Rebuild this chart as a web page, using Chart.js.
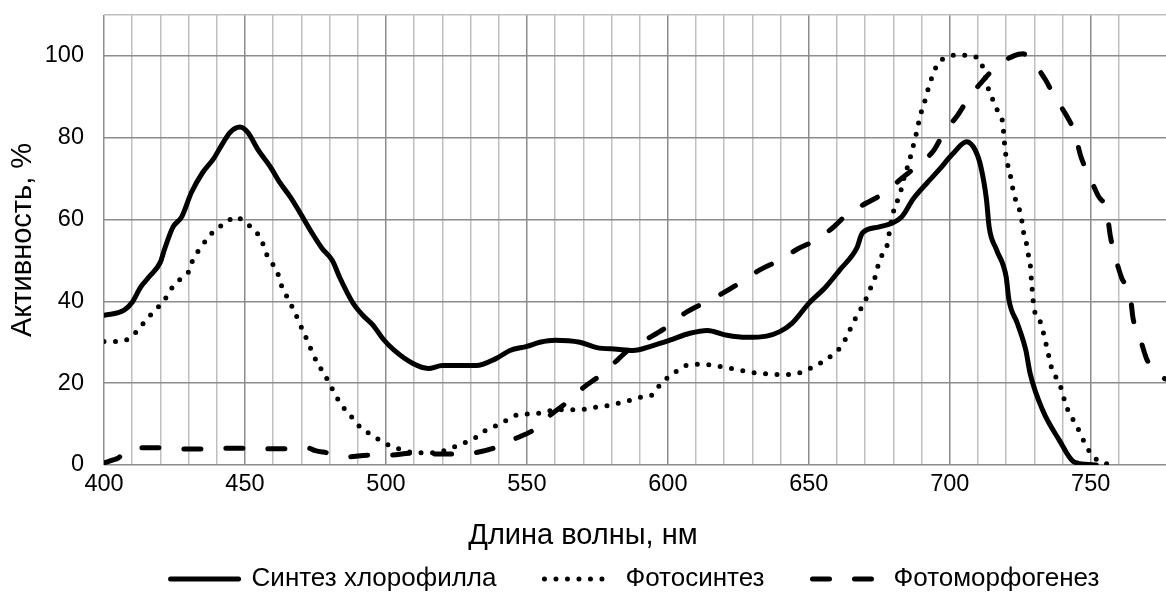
<!DOCTYPE html>
<html lang="ru">
<head>
  <meta charset="UTF-8" />
  <title>Спектры активности</title>
  <script src="https://cdn.jsdelivr.net/npm/chart.js"></script>
  <style>
    html, body { margin: 0; padding: 0; background: #fff; }
    #wrap { width: 1166px; height: 595px; }
  </style>
</head>
<body>
  <div id="wrap"><canvas id="chart-spectra"></canvas></div>
  <script>
    // Синтез хлорофилла
    const chlWl = [400, 407, 410, 413, 416, 420, 421.5, 424.5, 427.6, 431,
      435, 438.7, 442, 444.7, 448.2, 451, 454.6, 458.9, 462.4, 466,
      469.5, 473.7, 477.3, 481, 483.7, 488.3, 491.8, 495.4, 499, 503,
      509.6, 515, 520, 532, 539, 544, 550, 554.6, 560, 568.8,
      574.8, 582, 587.6, 594.7, 600.7, 607.8, 614, 621, 628, 635,
      639.7, 644, 650, 656, 661, 667, 669, 675, 683, 687,
      692, 696, 701, 706, 709, 711, 713, 714, 716.6, 720,
      721, 724, 727, 728.5, 733, 739, 743.6, 748, 752];
    const chlAct = [36.6, 37.8, 39.8, 43.5, 46, 49.6, 52.8, 58.2, 60.7, 66.6,
      71.5, 74.7, 78.5, 81.3, 82.6, 81.3, 77.1, 73, 69, 65.6,
      61.7, 56.8, 53, 50, 45.7, 39.6, 36.6, 34.2, 30.8, 28,
      24.8, 23.6, 24.3, 24.3, 26, 28, 29, 30, 30.5, 30,
      28.7, 28.3, 28, 29.2, 30.5, 32.2, 32.9, 31.7, 31.2, 31.5,
      32.6, 34.6, 39.5, 43.5, 47.7, 53, 56.7, 58.2, 60.7, 65,
      69, 72, 76, 79, 77, 73, 65, 58, 52.6, 46,
      40.3, 34.6, 28, 22.4, 13.3, 5.9, 1, 0.2, 0];

    // Фотосинтез
    const photoWl = [400, 405.7, 410, 412.8, 415.6, 418.8, 421.6, 424, 427, 430,
      431.6, 434, 436.5, 439.4, 443, 446.6, 450, 453.5, 456, 457.4,
      459.6, 461.7, 463, 465, 467, 468.8, 470.6, 472.4, 474, 476,
      478.4, 480.5, 482.6, 485, 488, 490.8, 494.3, 498, 502, 506,
      510, 515, 519, 523.4, 527, 531.6, 535, 539, 543, 546.8,
      551.4, 555.7, 560, 568.8, 573, 577, 582, 586, 590, 594.7,
      597, 600, 604, 608, 612, 616.7, 621, 625, 629.8, 633.7,
      638.6, 643, 647, 651, 655, 658.5, 661.7, 663.8, 665.6, 667.7,
      669.9, 671.6, 673.4, 674.5, 676, 678, 678.7, 680.5, 682.3, 683.3,
      685.8, 687, 688, 689, 690, 691.5, 692.6, 694, 695.7, 699.3,
      703.5, 707.8, 711.3, 713.5, 715.2, 717, 718.8, 719.5, 720.2, 721.3,
      722, 723, 724.5, 725.5, 726.2, 727.3, 728, 728.7, 729, 729.4,
      729.8, 731.6, 733, 734, 735, 736, 737.9, 739.7, 740.8, 742.5,
      744.7, 746.5, 748.6, 751, 754.6, 759];
    const photoAct = [30.2, 30.2, 31.5, 33.7, 36, 38.3, 40.5, 43.2, 45.4, 47.2,
      50.3, 52.8, 55.2, 57.5, 59, 60.7, 59.3, 57.3, 54.8, 51.9,
      49.4, 46.7, 43.8, 41, 38.3, 35.6, 32.7, 30, 27.3, 24.6,
      21.9, 19.2, 16.5, 14, 11.6, 9.3, 7.6, 6, 4.5, 3.7,
      3, 3, 3.2, 4.2, 5.2, 6.6, 8.3, 9.6, 11, 12.3,
      12.5, 12.8, 13.5, 13.5, 14, 14.3, 15, 15.7, 16.5, 17.2,
      19.4, 21.4, 23.3, 24.6, 24.6, 24.3, 23.8, 23.3, 22.6, 22.4,
      22.1, 22.1, 22.6, 23.8, 25.3, 27, 29.2, 31.9, 34.6, 37.3,
      40, 42.8, 45.7, 48.6, 51.4, 54.3, 57.5, 63.1, 66, 69,
      74.7, 77.9, 80.6, 83.8, 86.5, 89.7, 92.6, 95.3, 98, 99.8,
      100.2, 100, 98, 92.4, 89.4, 86.5, 83.5, 78, 74.4, 71.5,
      68.8, 65.6, 62.9, 60, 56.8, 53.8, 50.9, 47.9, 44.7, 41.8,
      38.6, 35.9, 32.9, 30, 27, 24, 21.1, 18.4, 15.5, 12.5,
      10, 7.4, 4.4, 2, 0.5, 0];

    // Фотоморфогенез
    const morphWl = [400, 403, 405, 408, 411.7, 419.5, 427, 435, 442, 450,
      457, 465, 472, 475, 479, 486.5, 493.6, 501, 509, 516.7,
      523.8, 531.6, 538.6, 545.7, 552.5, 558.5, 564, 570, 576, 582,
      587, 593.6, 600, 606, 612.8, 619.5, 626, 632.6, 639.7, 646,
      652, 658.5, 663.8, 670.6, 677, 683.3, 688.6, 694.3, 698, 702.8,
      706.7, 711.7, 716.7, 722.7, 726, 729, 734, 737, 741.5, 744.3,
      746.5, 749.3, 752.5, 755.7, 757, 758.5, 761, 764, 765, 767.4,
      769.8, 773.8, 776.7];
    const morphAct = [0.5, 1.2, 1.7, 3.5, 4.2, 4.2, 3.9, 3.9, 4.1, 4.1,
      4, 4, 4.2, 3.5, 3, 2, 2.4, 2.4, 2.9, 2.7,
      2.7, 3, 4.2, 6.4, 8.6, 12.3, 15.2, 18.9, 21.9, 25.6,
      28.7, 31.2, 33.9, 37.1, 39.6, 42, 44.7, 47.7, 50.1, 52.8,
      54.8, 58, 61.4, 64.1, 66.6, 70.3, 73.2, 76.9, 81.3, 85.5,
      89.7, 93.9, 97.5, 100, 100.5, 98.8, 94.1, 90.2, 85.3, 81.3,
      75.4, 71, 66, 61.9, 55.8, 51.4, 45.7, 41.5, 35.9, 31.2,
      26, 21.9, 21];

    const seriesNames = ['Синтез хлорофилла', 'Фотосинтез', 'Фотоморфогенез'];

    const xMin = 400, xMax = 776.7, yMin = 0, yMax = 110;

    function points(xs, ys) {
      return xs.map((x, i) => ({ x: x, y: ys[i] }));
    }

    Chart.defaults.font.family = '"Liberation Sans", Arial, sans-serif';
    Chart.defaults.color = '#000';

    const common = {
      borderColor: '#000',
      backgroundColor: '#000',
      borderWidth: 5,
      pointRadius: 0,
      pointHoverRadius: 0,
      pointStyle: 'line',
      cubicInterpolationMode: 'monotone',
      fill: false
    };

    // legend samples: keep dash pattern and caps of each line
    function legendItems(chart) {
      const base = Chart.defaults.plugins.legend.labels.generateLabels(chart);
      return base.map(item => {
        const ds = chart.data.datasets[item.datasetIndex];
        item.lineDash = ds.borderDash || [];
        item.lineCap = ds.borderCapStyle || 'butt';
        item.lineWidth = ds.borderWidth;
        item.strokeStyle = '#000';
        item.fillStyle = '#000';
        return item;
      });
    }

    new Chart(document.getElementById('chart-spectra'), {
      type: 'line',
      data: {
        datasets: [
          Object.assign({}, common, { label: seriesNames[0], data: points(chlWl, chlAct), borderCapStyle: 'round', borderJoinStyle: 'round' }),
          Object.assign({}, common, { label: seriesNames[1], data: points(photoWl, photoAct), borderDash: [0, 11.5], borderCapStyle: 'round' }),
          Object.assign({}, common, { label: seriesNames[2], data: points(morphWl, morphAct), borderDash: [17, 25], borderCapStyle: 'round' })
        ]
      },
      options: {
        responsive: true,
        maintainAspectRatio: false,
        animation: false,
        layout: { padding: { top: 15, right: 0, left: 0, bottom: -7 } },
        plugins: {
          tooltip: { enabled: false },
          title: {
            display: true,
            position: 'bottom',
            weight: 500,
            text: 'Длина волны, нм',
            color: '#000',
            font: { size: 29, weight: 'normal' },
            padding: { top: 13.6, bottom: -35.4 }
          },
          legend: {
            position: 'bottom',
            fullSize: false,
            labels: {
              usePointStyle: true,
              pointStyle: 'line',
              pointStyleWidth: 68,
              padding: 48,
              font: { size: 26 },
              color: '#000',
              generateLabels: legendItems
            }
          }
        },
        scales: {
          x: {
            type: 'linear',
            min: xMin,
            max: xMax,
            afterFit: s => { s.height = 40; s.paddingRight = 0; },
            ticks: {
              stepSize: 10,
              autoSkip: false,
              maxRotation: 0,
              padding: 5,
              font: { size: 23.5 },
              callback: v => (v % 50 === 0 ? v : '')
            },
            grid: {
              drawTicks: false,
              lineWidth: 1.5,
              color: c => {
                const v = c.tick ? c.tick.value : 0;
                if (v % 10 !== 0) return 'rgba(0,0,0,0)';
                return v % 50 === 0 ? '#8c8c8c' : '#bfbfbf';
              }
            },
            border: { display: false }
          },
          y: {
            min: yMin,
            max: yMax,
            afterFit: s => { s.width = 104; s.paddingTop = 0; s.paddingBottom = 0; },
            ticks: {
              stepSize: 20,
              padding: 20,
              font: { size: 23.5 },
              callback: v => (v % 20 === 0 ? v : '')
            },
            grid: {
              drawTicks: false,
              lineWidth: 1.5,
              color: c => (c.tick && c.tick.value === yMax ? '#bfbfbf' : '#8c8c8c')
            },
            border: { display: false },
            title: {
              display: true,
              text: 'Активность, %',
              font: { size: 29 },
              padding: { top: 6, bottom: 0 }
            }
          }
        }
      }
    });
  </script>
</body>
</html>
